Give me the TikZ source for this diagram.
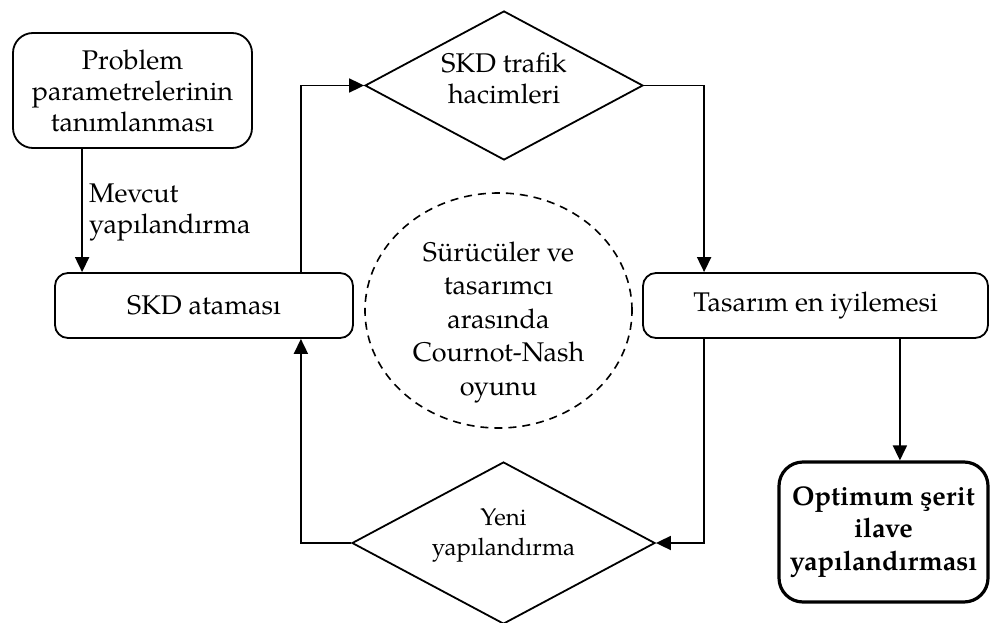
\documentclass[tikz,border=0pt]{standalone}
\usepackage{fontspec}
\setmainfont{texgyrepagella}[Extension=.otf, UprightFont=*-regular, BoldFont=*-bold, ItalicFont=*-italic, BoldItalicFont=*-bolditalic]
\usetikzlibrary{shapes.geometric,arrows.meta,calc}

\tikzset{
  base/.style={font=\fontsize{27}{31}\selectfont, align=center, inner sep=0pt},
  procbox/.style={base, draw, line width=1.8pt, rounded corners=13pt},
  decision/.style={draw, line width=1.8pt, shape=diamond, inner sep=0pt},
  resultbox/.style={base, draw, line width=3.2pt, rounded corners=24pt, font=\fontsize{27}{32.5}\selectfont\bfseries},
  gamecloud/.style={draw, line width=1.6pt, shape=ellipse, dash pattern=on 8pt off 6pt, inner sep=0pt},
  arr/.style={line width=1.8pt, -{Triangle[length=15pt,width=14pt]}}
}

\begin{document}
\begin{tikzpicture}[x=1pt,y=-1pt]
\useasboundingbox (0,0) rectangle (990,623);

% process boxes
\node[procbox, rounded corners=20pt, minimum width=239pt, minimum height=115pt] (prob) at (132.5,90.5)
  {Problem\\parametrelerinin\\tanımlanması};
\node[procbox, minimum width=298pt, minimum height=65pt] (skd) at (204,305.5) {SKD ataması};
\node[procbox, minimum width=345pt, minimum height=65pt] (tas) at (815.5,305.5) {Tasarım en iyilemesi};
\node[resultbox, minimum width=209pt, minimum height=140pt] (opt) at (883.5,532)
  {Optimum şerit\\ilave\\yapılandırması};

% decisions (text set slightly above the centre)
\node[decision, minimum width=278pt, minimum height=149pt,
      label={[base, yshift=7pt]center:{SKD trafik\\hacimleri}}] (traf) at (504,85.5) {};
\node[decision, minimum width=303pt, minimum height=162pt,
      label={[base, font=\fontsize{24}{30}\selectfont, yshift=8pt]center:{Yeni\\yapılandırma}}] (yeni) at (503.5,543) {};

% game between drivers and designer
\node[gamecloud, minimum width=267pt, minimum height=235pt,
      label={[base, font=\fontsize{27}{33.5}\selectfont, yshift=-12pt]center:{Sürücüler ve\\tasarımcı\\arasında\\Cournot-Nash\\oyunu}}] (game) at (498.5,310.5) {};

% connectors
\coordinate (in1) at ([xshift=28pt]skd.north west);
\draw[arr] (in1 |- prob.south) -- (in1);
\node[base, align=left, anchor=west] (mevcut) at (89,212) {Mevcut\\yapılandırma};

\draw[arr] ([xshift=-53pt]skd.north east) |- (traf.west);
\draw[arr] (traf.east) -| ([xshift=62pt]tas.north west);
\draw[arr] ([xshift=62pt]tas.south west) |- (yeni.east);
\draw[arr] (yeni.west) -| ([xshift=-53pt]skd.south east);
\coordinate (out1) at ([xshift=-89pt]tas.south east);
\draw[arr] (out1) -- (out1 |- opt.north);
\end{tikzpicture}
\end{document}
